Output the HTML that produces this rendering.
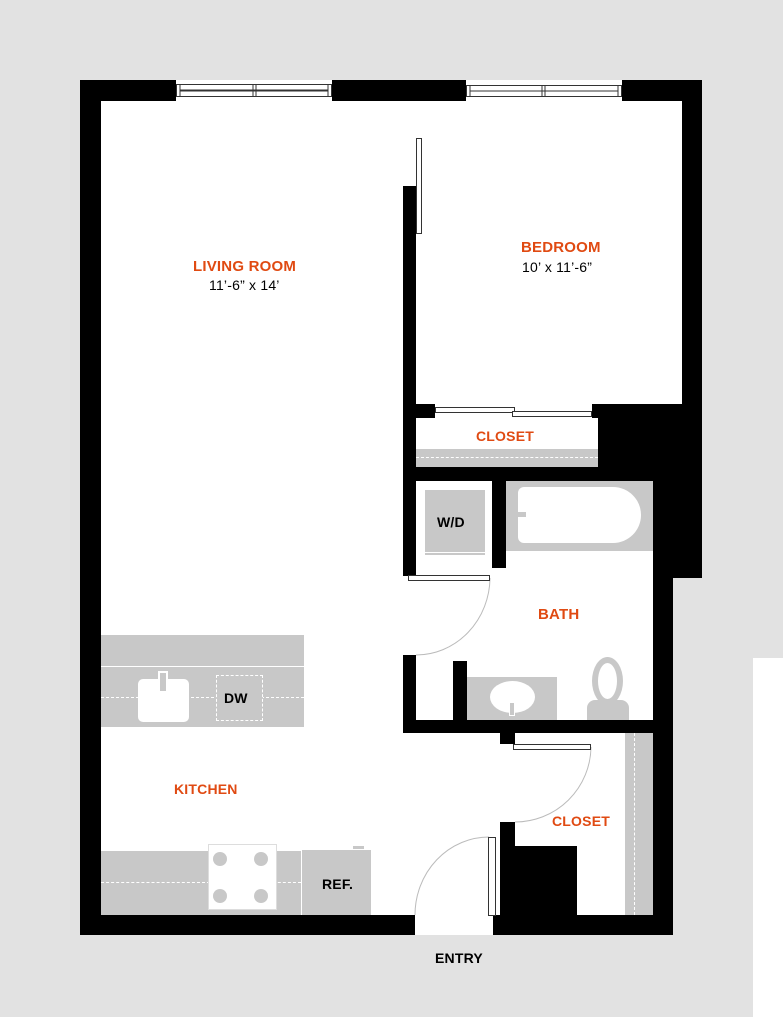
<!DOCTYPE html>
<html><head><style>
body{margin:0;width:783px;height:1017px;background:#e2e2e2;position:relative;overflow:hidden;font-family:"Liberation Sans",sans-serif}
div{position:absolute;box-sizing:border-box}
.b{background:#000}.w{background:#fff}.g{background:#c8c8c8}
.t{font-weight:bold;font-size:14px;letter-spacing:0.2px;white-space:nowrap}
.o{color:#e04a12}
</style></head><body>
<div style="left:753px;top:658px;width:30px;height:359px;background:#fff"></div>
<div class="w" style="left:80px;top:80px;width:622px;height:855px"></div>
<div class="b" style="left:80px;top:80px;width:96px;height:21px"></div>
<div class="b" style="left:332px;top:80px;width:134px;height:21px"></div>
<div class="b" style="left:622px;top:80px;width:80px;height:21px"></div>
<div class="b" style="left:80px;top:80px;width:21px;height:855px"></div>
<div class="b" style="left:682px;top:80px;width:20px;height:498px"></div>
<div style="left:673px;top:578px;width:29px;height:357px;background:#e2e2e2"></div>
<div class="b" style="left:653px;top:481px;width:20px;height:454px"></div>
<div class="b" style="left:80px;top:915px;width:335px;height:20px"></div>
<div class="b" style="left:493px;top:915px;width:180px;height:20px"></div>
<div style="left:415px;top:935px;width:80px;height:82px;background:#e2e2e2"></div>
<svg style="position:absolute;left:0;top:0" width="783" height="1017">
<g fill="none" stroke="#333" stroke-width="1">
<rect x="176.5" y="84.5" width="155" height="12"/><line x1="180" y1="90.5" x2="328" y2="90.5" stroke-width="2"/><line x1="180" y1="84" x2="180" y2="97"/><line x1="328" y1="84" x2="328" y2="97"/><line x1="253" y1="84" x2="253" y2="97"/><line x1="256" y1="84" x2="256" y2="97"/>
<rect x="466.5" y="85.5" width="155" height="11"/><line x1="470" y1="91" x2="618" y2="91"/><line x1="470" y1="85" x2="470" y2="97"/><line x1="618" y1="85" x2="618" y2="97"/><line x1="542" y1="85" x2="542" y2="97"/><line x1="545" y1="85" x2="545" y2="97"/>
</g>
<g fill="none" stroke="#bbb" stroke-width="1">
<path d="M490 578 A74 78 0 0 1 416 655"/>
<path d="M591 747 A76 76 0 0 1 515 822"/>
<path d="M489 837 A74 78 0 0 0 415 915"/>
</g>
</svg>
<div class="b" style="left:403px;top:186px;width:13px;height:390px"></div>
<div style="left:416px;top:138px;width:6px;height:96px;border:1px solid #333;background:#fff"></div>
<div class="b" style="left:403px;top:404px;width:32px;height:14px"></div>
<div style="left:435px;top:407px;width:80px;height:6px;border:1px solid #333;background:#fff"></div>
<div style="left:512px;top:411px;width:80px;height:6px;border:1px solid #333;background:#fff"></div>
<div class="b" style="left:592px;top:404px;width:110px;height:14px"></div>
<div class="b" style="left:598px;top:404px;width:104px;height:77px"></div>
<div class="b" style="left:653px;top:404px;width:49px;height:174px"></div>
<div class="g" style="left:416px;top:449px;width:182px;height:18px"></div>
<div style="left:416px;top:457px;width:182px;border-top:1px dashed #fff"></div>
<div class="b" style="left:403px;top:467px;width:250px;height:14px"></div>
<div class="t o" style="left:476px;top:428px">CLOSET</div>
<div class="g" style="left:425px;top:490px;width:60px;height:62px"></div>
<div class="g" style="left:425px;top:553px;width:60px;height:2px"></div>
<div class="t" style="left:437px;top:514px">W/D</div>
<div class="b" style="left:492px;top:481px;width:14px;height:87px"></div>
<div style="left:408px;top:575px;width:82px;height:6px;border:1px solid #333;background:#fff"></div>
<div class="g" style="left:506px;top:481px;width:147px;height:70px"></div>
<div class="w" style="left:518px;top:487px;width:123px;height:56px;border-radius:6px 28px 28px 6px"></div>
<div class="g" style="left:516px;top:512px;width:10px;height:5px"></div>
<div class="t o" style="left:538px;top:606px;font-size:15px">BATH</div>
<div class="b" style="left:403px;top:655px;width:13px;height:78px"></div>
<div class="b" style="left:453px;top:661px;width:14px;height:60px"></div>
<div class="g" style="left:467px;top:677px;width:90px;height:43px"></div>
<div class="w" style="left:490px;top:681px;width:45px;height:32px;border-radius:50%"></div>
<div class="g" style="left:509px;top:702px;width:6px;height:14px;border:1px solid #fff"></div>
<div style="left:592px;top:657px;width:31px;height:48px;border:6px solid #c8c8c8;border-radius:50%"></div>
<div class="g" style="left:587px;top:700px;width:42px;height:20px;border-radius:8px 8px 0 0"></div>
<div class="b" style="left:403px;top:720px;width:270px;height:13px"></div>
<div class="b" style="left:500px;top:733px;width:15px;height:11px"></div>
<div style="left:513px;top:744px;width:78px;height:6px;border:1px solid #333;background:#fff"></div>
<div class="b" style="left:500px;top:822px;width:15px;height:93px"></div>
<div class="b" style="left:500px;top:846px;width:77px;height:69px"></div>
<div class="g" style="left:625px;top:733px;width:28px;height:182px"></div>
<div style="left:634px;top:733px;height:182px;border-left:1px dashed #fff"></div>
<div class="t o" style="left:552px;top:813px">CLOSET</div>
<div style="left:488px;top:837px;width:8px;height:79px;border:1px solid #333;background:#fff"></div>
<div class="t" style="left:435px;top:950px">ENTRY</div>
<div class="g" style="left:101px;top:635px;width:203px;height:92px"></div>
<div class="w" style="left:101px;top:666px;width:203px;height:1px"></div>
<div style="left:101px;top:697px;width:203px;border-top:1px dashed #fff"></div>
<div class="w" style="left:138px;top:679px;width:51px;height:43px;border-radius:5px"></div>
<div class="g" style="left:158px;top:671px;width:10px;height:22px;border:2px solid #fff"></div>
<div class="g" style="left:216px;top:675px;width:47px;height:46px;border:1px dashed #fff"></div>
<div class="t" style="left:224px;top:690px">DW</div>
<div class="t o" style="left:174px;top:781px">KITCHEN</div>
<div class="g" style="left:101px;top:851px;width:200px;height:64px"></div>
<div style="left:101px;top:882px;width:200px;border-top:1px dashed #fff"></div>
<div class="w" style="left:208px;top:844px;width:69px;height:66px;border:1px solid #ddd"></div>
<div class="g" style="left:213px;top:852px;width:14px;height:14px;border-radius:50%"></div>
<div class="g" style="left:254px;top:852px;width:14px;height:14px;border-radius:50%"></div>
<div class="g" style="left:213px;top:889px;width:14px;height:14px;border-radius:50%"></div>
<div class="g" style="left:254px;top:889px;width:14px;height:14px;border-radius:50%"></div>
<div class="g" style="left:302px;top:850px;width:69px;height:65px"></div>
<div class="g" style="left:353px;top:846px;width:11px;height:3px"></div>
<div class="t" style="left:322px;top:876px">REF.</div>
<div class="t o" style="left:193px;top:258px;font-size:15px">LIVING ROOM</div>
<div class="t" style="left:209px;top:277px;font-weight:normal">11’-6” x 14’</div>
<div class="t o" style="left:521px;top:239px;font-size:15px">BEDROOM</div>
<div class="t" style="left:522px;top:259px;font-weight:normal">10’ x 11’-6”</div>
</body></html>
